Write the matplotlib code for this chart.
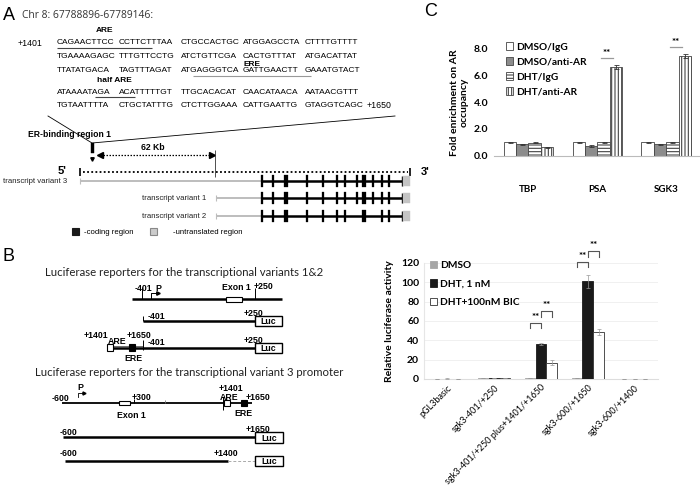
import numpy as np
import matplotlib.pyplot as plt
from matplotlib.patches import Rectangle, Patch

plt.rcParams['font.family'] = ['Liberation Sans', 'DejaVu Sans']
plt.rcParams['hatch.linewidth'] = 0.8

W, H = 700, 494

# ---------------- panel A data ----------------
seq_rows = [
    "CAGAACTTCC CCTTCTTTAA CTGCCACTGC ATGGAGCCTA CTTTTGTTTT",
    "TGAAAAGAGC TTTGTTCCTG ATCTGTTCGA CACTGTTTAT ATGACATTAT",
    "TTATATGACA TAGTTTAGAT ATGAGGGTCA GATTGAACTT GAAATGTACT",
    "ATAAAATAGA ACATTTTTGT TTGCACACAT CAACATAACA AATAACGTTT",
    "TGTAATTTTA CTGCTATTTG CTCTTGGAAA CATTGAATTG GTAGGTCAGC",
]
seq_start, seq_end = "+1401", "+1650"
# (row, first base, last base exclusive, label, underline colour)
motifs = [(0, 0, 16, "ARE", "#444444"),
          (2, 22, 41, "ERE", "#999999"),
          (3, 7, 13, "half ARE", "#444444")]

transcripts = ["transcript variant 3", "transcript variant 1", "transcript variant 2"]
tv_exons = [
    [262, 273, 286, 307, 323, 337, 345, 357, 364, 373, 382, 389],
    [262, 273, 286, 307, 323, 337, 345, 357, 364, 373, 382, 389],
    [262, 273, 286, 307, 323, 337, 345, 364, 382, 389],
]
wide_exons = [286, 364]

# ---------------- panel C data ----------------
c_targets = ["TBP", "PSA", "SGK3"]
c_series = ["DMSO/IgG", "DMSO/anti-AR", "DHT/IgG", "DHT/anti-AR"]
c_means = [[1.0, 1.0, 1.0],
           [0.87, 0.72, 0.85],
           [0.97, 1.0, 1.0],
           [0.63, 6.65, 7.45]]
c_err = [[0.03, 0.03, 0.03],
         [0.04, 0.05, 0.04],
         [0.04, 0.04, 0.04],
         [0.02, 0.15, 0.13]]
c_signif = ["", "**", "**"]

# ---------------- panel D data ----------------
d_constructs = ["pGL3basic", "sgk3-401/+250", "sgk3-401/+250 plus+1401/+1650",
                "sgk3-600/+1650", "sgk3-600/+1400"]
d_series = ["DMSO", "DHT, 1 nM", "DHT+100nM BIC"]
d_dmso = [0.4, 0.8, 0.7, 0.8, 0.3]
d_dht = [0.5, 1.0, 36, 101, 0.3]
d_bic = [0.4, 1.2, 17, 49, 0.3]
d_dmso_err = [0.1, 0.1, 0.1, 0.1, 0.1]
d_dht_err = [0.1, 0.1, 1.0, 7.0, 0.1]
d_bic_err = [0.1, 0.1, 3.0, 3.0, 0.1]
# significance brackets: construct index -> (DMSO vs DHT level, DHT vs BIC level)
d_brackets = {2: (58, 70), 3: (121, 132)}

fig = plt.figure(figsize=(7, 4.94), dpi=100)
ax0 = fig.add_axes([0, 0, 1, 1])
ax0.set_xlim(0, W)
ax0.set_ylim(H, 0)
ax0.axis("off")
R = fig.canvas.get_renderer()


def txt(x, y, s, size=6.5, weight="bold", ha="center", **kw):
    return ax0.text(x, y, s, fontsize=size, fontweight=weight, ha=ha, va="center", **kw)


def hline(x0, x1, y, lw=1.8, color="black", **kw):
    ax0.plot([x0, x1], [y, y], color=color, lw=lw, solid_capstyle="butt", **kw)


def vline(x, y0, y1, lw=0.7, color="black"):
    ax0.plot([x, x], [y0, y1], color=color, lw=lw, solid_capstyle="butt")


def box(x, y, w, h, fc="white", ec="black", lw=0.8):
    ax0.add_patch(Rectangle((x, y), w, h, facecolor=fc, edgecolor=ec, lw=lw, zorder=3))


def luc(x, y, w=27, h=10):
    box(x, y, w, h, lw=1.0)
    txt(x + w / 2, y + h / 2 + 0.5, "Luc", size=6.3)


# ---------------- panel A ----------------
ax0.text(3, 15, "A", fontsize=13, va="center", ha="left")
txt(22, 16, "Chr 8: 67788896-67789146:", size=7.4, weight="normal", ha="left",
    family=["Open Sans", "DejaVu Sans"], color="#333333")

narrow = ["Liberation Sans Narrow", "Liberation Sans"]
row_y = [43, 56, 71, 92, 105]
label_y = [30, 64.5, 80]
col_x = [57 + 62 * i for i in range(5)]
txt(18, row_y[0], seq_start, size=6.3, weight="normal", ha="left")
block_ext = []
for r, row in enumerate(seq_rows):
    exts = []
    for b, blk in enumerate(row.split()):
        t = txt(col_x[b], row_y[r], blk, size=6.0, weight="normal", ha="left", family=narrow)
        bb = t.get_window_extent(renderer=R)
        exts.append((bb.x0, bb.x1))
    block_ext.append(exts)
txt(col_x[4] + 62, row_y[4], seq_end, size=6.3, weight="normal", ha="left")


def base_x(r, i, end=False):
    b, c = divmod(i, 10)
    x0, x1 = block_ext[r][b]
    return x0 + (x1 - x0) * (c + (1 if end else 0)) / 10


for (r, i0, i1, lab, col), ly in zip(motifs, label_y):
    xa, xb = base_x(r, i0), base_x(r, i1 - 1, end=True)
    hline(xa, xb, row_y[r] + 4.8, lw=0.8, color=col)
    txt((xa + xb) / 2, ly, lab, size=6.0)

# zoom lines to the binding region
ax0.plot([48, 92, 395], [116, 143, 116], color="black", lw=0.6)
txt(28, 134, "ER-binding region 1", size=6.2, ha="left")
box(91, 143, 2.5, 10, fc="black", ec="black", lw=0.3)
ax0.plot(92, 159, marker="v", ms=2.5, color="black")

# 62 Kb arrow
ax0.plot([100, 212], [155, 155], color="black", lw=0.9, ls=(0, (1.2, 1.2)))
ax0.plot(100, 155, marker="<", ms=4.5, color="black")
ax0.plot(212, 155, marker=">", ms=4.5, color="black")
txt(153, 147, "62 Kb", size=6.2)
vline(215, 150, 177, lw=0.6, color="#333333")

# genomic locus
txt(62, 171, "5'", size=8)
vline(80, 168, 176, lw=1.2)
hline(83, 408, 172, lw=1.3, ls=(0, (1.0, 1.3)))
vline(410, 168, 176, lw=1.2)
txt(425, 172, "3'", size=8)

tv_y = [181, 198, 216]
tv_start = [80, 216, 216]
for name, y, x0, exons in zip(transcripts, tv_y, tv_start, tv_exons):
    if x0 < 100:
        txt(3, y, name, size=5.6, weight="normal", ha="left", color="#222222")
    else:
        txt(206, y, name, size=5.6, weight="normal", ha="right", color="#222222")
    hline(x0, 262, y, lw=1.4, color="#bdbdbd")
    vline(x0, y - 3, y + 3, lw=0.8, color="#bdbdbd")
    hline(262, 402, y, lw=1.8)
    for ex in exons:
        w = 4 if ex in wide_exons else 1.8
        box(ex - w / 2, y - 6, w, 12, fc="black", ec="black", lw=0.2)
    vline(402, y - 5, y + 5, lw=1.0)
    box(403, y - 5, 7, 10, fc="#c4c4c4", ec="#c4c4c4", lw=0.3)

box(72, 228, 7, 7, fc="#1a1a1a", ec="#1a1a1a")
txt(84, 232, "-coding region", size=5.6, weight="normal", ha="left")
box(150, 228, 7, 7, fc="#cccccc", ec="#888888")
txt(173, 232, "-untranslated region", size=5.6, weight="normal", ha="left")

# ---------------- panel B ----------------
ax0.text(3, 256, "B", fontsize=13, va="center", ha="left")
hdr = ["Lato", "DejaVu Sans"]
txt(184, 272, "Luciferase reporters for the transcriptional variants 1&2", size=8.2,
    weight="normal", family=hdr, color="#222222")

# variants 1&2, genomic
hline(132, 282, 299)
vline(142, 287, 299)
txt(143, 288, "-401", size=6.3)
ax0.plot([151, 151, 157], [299, 293, 293], color="black", lw=0.7)
ax0.plot(158, 293, marker=">", ms=2.5, color="black")
txt(158, 288, "P", size=6.3)
box(226, 297, 16, 5)
txt(236, 287, "Exon 1", size=6.3)
vline(255, 288, 299)
txt(264, 286, "+250", size=6.3)

# -401/+250
hline(143, 255, 321)
vline(143, 316, 321)
txt(148, 316, "-401", size=6.3, ha="left")
txt(253, 313, "+250", size=6.3)
luc(255, 316)

# +1401/+1650 plus -401/+250
hline(110, 255, 348)
hline(113, 143, 345.5, lw=0.6, color="#555555")
box(107, 344, 6, 7)
box(129, 344, 6, 7, fc="black")
vline(143, 340, 350)
txt(96, 335, "+1401", size=6.3)
txt(117, 341, "ARE", size=6.3)
txt(139, 335, "+1650", size=6.3)
txt(148, 342, "-401", size=6.3, ha="left")
txt(253, 340, "+250", size=6.3)
txt(133, 358, "ERE", size=6.3)
luc(255, 343)

txt(189, 372, "Luciferase reporters for the transcriptional variant 3 promoter", size=8.2,
    weight="normal", family=hdr, color="#222222")

# variant 3, genomic
hline(62, 252, 403, lw=1.3)
txt(61, 398, "-600", size=6.3)
txt(80, 387, "P", size=6.3)
ax0.plot([78, 78, 83], [397, 393, 393], color="black", lw=0.6)
ax0.plot(84, 393, marker=">", ms=2.2, color="black")
box(119, 401, 11, 4)
vline(134, 399, 403)
txt(142, 397, "+300", size=6.3)
vline(165, 400, 403, lw=0.6, color="#777777")
txt(131, 415, "Exon 1", size=6.3)
vline(223, 397, 410)
box(224, 400, 6, 6)
box(241, 400, 6, 6, fc="black")
txt(231, 388, "+1401", size=6.3)
txt(229, 397, "ARE", size=6.3)
txt(258, 397, "+1650", size=6.3)
txt(243, 413, "ERE", size=6.3)

# -600/+1650
txt(68, 432, "-600", size=6.3)
txt(258, 429, "+1650", size=6.3)
hline(63, 255, 437)
luc(255, 432, w=28, h=11)

# -600/+1400
txt(68, 453, "-600", size=6.3)
txt(226, 453, "+1400", size=6.3)
hline(65, 228, 461)
hline(228, 255, 461, lw=0.7, color="#aaaaaa", ls=(0, (3, 2)))
luc(255, 456, w=28)

# ---------------- panel C ----------------
ax0.text(424, 12, "C", fontsize=13, va="center", ha="left")
cf = ["Lato", "DejaVu Sans"]
axc = fig.add_axes([494 / W, 1 - 155.7 / H, 206 / W, 107 / H])
xc = np.arange(len(c_targets))
bw = 0.18
c_styles = [("white", ""), ("#8c8c8c", ""), ("white", "-----"), ("white", "|||||")]
handles = []
for i, (lab, m, e, (fc, hat)) in enumerate(zip(c_series, c_means, c_err, c_styles)):
    pos = xc + (i - 1.5) * bw
    axc.bar(pos, m, bw, yerr=e, color=fc, hatch=hat, edgecolor="#444444", lw=0.6,
            error_kw=dict(lw=0.6, capsize=1.8, capthick=0.6, ecolor="#333333"))
    handles.append(Patch(facecolor=fc, hatch=hat, edgecolor="#444444", lw=0.6, label=lab))
top = np.array(c_means[3]) + np.array(c_err[3])
for k, s in enumerate(c_signif):
    if s:
        bx = xc[k] + 0.5 * bw
        axc.plot([bx - 0.04, bx + 0.135], [top[k] + 0.52] * 2, color="#999999", lw=0.9,
                 clip_on=False)
        axc.text(bx + 0.05, top[k] + 0.85, s, ha="center", va="center", fontsize=7,
                 fontweight="bold", family=cf, clip_on=False)
axc.set_xlim(-0.5, 2.49)
axc.set_ylim(0, 8)
axc.set_yticks(np.arange(0, 8.1, 2))
axc.set_yticklabels([f"{v:.1f}" for v in np.arange(0, 8.1, 2)], fontsize=7.5,
                    fontweight="bold", family=cf)
axc.set_xticks(xc)
axc.set_xticklabels(c_targets, fontsize=7, fontweight="bold", family=cf)
axc.tick_params(axis="both", length=0)
axc.tick_params(axis="x", pad=21)
axc.tick_params(axis="y", pad=4)
for sp in ["top", "right", "left"]:
    axc.spines[sp].set_visible(False)
axc.spines["bottom"].set_color("#bbbbbb")
axc.set_ylabel("Fold enrichment on AR\noccupancy", fontsize=7.5, fontweight="bold",
               family=cf, labelpad=4, linespacing=1.1)
axc.legend(handles=handles, loc="upper left", bbox_to_anchor=(0.06, 1.06), frameon=False,
           prop=dict(family=cf, weight="bold", size=7.3), handlelength=0.7,
           handleheight=0.8, handletextpad=0.3, labelspacing=0.55, borderaxespad=0,
           borderpad=0)

# ---------------- panel D ----------------
axd = fig.add_axes([424 / W, 1 - 379 / H, 234 / W, 116 / H])
xd = np.arange(len(d_constructs))
bwd = 0.23
d_means = [d_dmso, d_dht, d_bic]
d_errs = [d_dmso_err, d_dht_err, d_bic_err]
d_colors = ["#a6a6a6", "#1a1a1a", "white"]
for i, (lab, m, e, fc) in enumerate(zip(d_series, d_means, d_errs, d_colors)):
    axd.bar(xd + (i - 1) * bwd, m, bwd, yerr=e, color=fc, edgecolor="#333333" if i == 2 else fc,
            lw=0.6, label=lab, zorder=3,
            error_kw=dict(lw=0.5, capsize=1.5, capthick=0.5, ecolor="#999999"))


def bracket(x0, x1, y, text):
    axd.plot([x0, x0, x1, x1], [y - 5.5, y, y, y - 5.5], color="#555555", lw=0.8,
             clip_on=False, zorder=4)
    axd.text((x0 + x1) / 2, y + 6, text, ha="center", va="center", fontsize=7,
             fontweight="bold", family=cf, clip_on=False)


for k, (y1, y2) in d_brackets.items():
    bracket(xd[k] - bwd, xd[k], y1, "**")
    bracket(xd[k], xd[k] + bwd, y2, "**")

axd.set_xlim(-0.5, 4.5)
axd.set_ylim(0, 120)
axd.set_yticks(np.arange(0, 121, 20))
axd.set_yticklabels([str(v) for v in range(0, 121, 20)], fontsize=7.5, fontweight="bold",
                    family=cf)
axd.set_xticks(xd)
axd.set_xticklabels(d_constructs, rotation=45, ha="right", rotation_mode="anchor",
                    fontsize=6.5, family=cf)
axd.tick_params(axis="both", length=0)
axd.tick_params(axis="x", pad=3)
axd.grid(axis="y", color="#eeeeee", lw=0.6, zorder=0)
for sp in ["top", "right"]:
    axd.spines[sp].set_visible(False)
axd.spines["left"].set_color("#e6e6e6")
axd.spines["bottom"].set_color("#dddddd")
axd.set_ylabel("Relative luciferase activity", fontsize=7.5, fontweight="bold", family=cf,
               labelpad=5)
axd.legend(loc="upper left", bbox_to_anchor=(0.025, 1.02), frameon=False,
           prop=dict(family=cf, weight="bold", size=7.3), handlelength=0.7,
           handleheight=0.7, handletextpad=0.3, labelspacing=0.95, borderaxespad=0,
           borderpad=0)

fig.savefig("out.png", dpi=100)
